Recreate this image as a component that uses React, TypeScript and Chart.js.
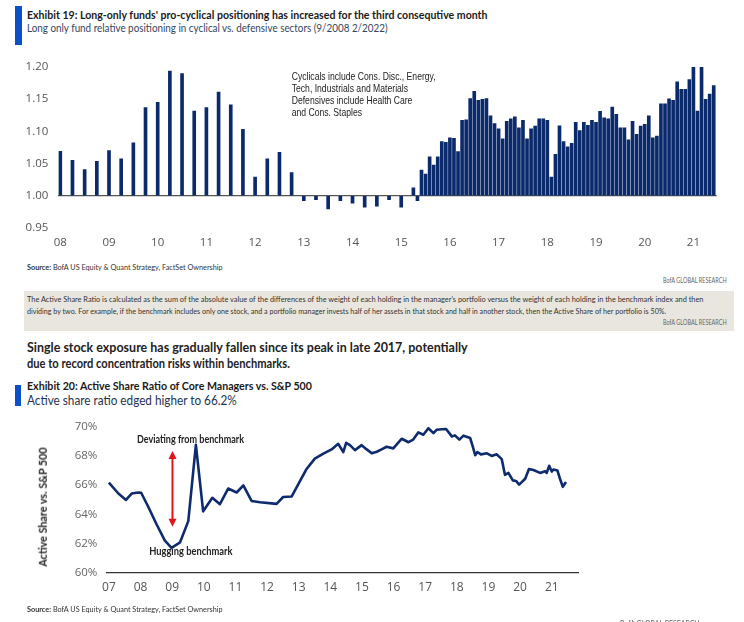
import React, { useEffect, useRef } from "react";
import { Chart, registerables } from "chart.js";

Chart.register(...registerables);

// ---------------- Exhibit 19 data ----------------
const quarterlyDates = [
  "2008-01", "2008-04", "2008-07", "2008-10",
  "2009-01", "2009-04", "2009-07", "2009-10",
  "2010-01", "2010-04", "2010-07", "2010-10",
  "2011-01", "2011-04", "2011-07", "2011-10",
  "2012-01", "2012-04", "2012-07", "2012-10",
  "2013-01", "2013-04", "2013-07", "2013-10",
  "2014-01", "2014-04", "2014-07", "2014-10",
  "2015-01",
];
const quarterlyValues = [
  1.069, 1.055, 1.0405, 1.0535,
  1.07, 1.0575, 1.082, 1.137,
  1.145, 1.1935, 1.1895, 1.1315,
  1.137, 1.161, 1.141, 1.103,
  1.029, 1.0575, 1.0675, 1.036,
  0.9925, 0.994, 0.9795, 0.9925,
  0.9885, 0.9825, 0.984, 0.994,
  0.9825,
];
const monthlyDates = [
  "2015-04", "2015-05", "2015-06", "2015-07", "2015-08", "2015-09", "2015-10", "2015-11", "2015-12",
  "2016-01", "2016-02", "2016-03", "2016-04", "2016-05", "2016-06", "2016-07", "2016-08", "2016-09", "2016-10", "2016-11", "2016-12",
  "2017-01", "2017-02", "2017-03", "2017-04", "2017-05", "2017-06", "2017-07", "2017-08", "2017-09", "2017-10", "2017-11", "2017-12",
  "2018-01", "2018-02", "2018-03", "2018-04", "2018-05", "2018-06", "2018-07", "2018-08", "2018-09", "2018-10", "2018-11", "2018-12",
  "2019-01", "2019-02", "2019-03", "2019-04", "2019-05", "2019-06", "2019-07", "2019-08", "2019-09", "2019-10", "2019-11", "2019-12",
  "2020-01", "2020-02", "2020-03", "2020-04", "2020-05", "2020-06", "2020-07", "2020-08", "2020-09", "2020-10", "2020-11", "2020-12",
  "2021-01", "2021-02", "2021-03", "2021-04", "2021-05", "2021-06",
];
const monthlyValues = [
  1.0125, 0.9925, 1.04, 1.0335, 1.0605, 1.0475, 1.0605, 1.084, 1.083,
  1.09, 1.089, 1.0685, 1.117, 1.118, 1.151, 1.162, 1.148, 1.1495, 1.151, 1.124, 1.112,
  1.104, 1.0885, 1.1155, 1.1195, 1.1225, 1.1055, 1.117, 1.0885, 1.104, 1.108, 1.1195, 1.1195,
  1.117, 1.029, 1.0645, 1.1085, 1.084, 1.076, 1.0815, 1.114, 1.101, 1.114, 1.1095, 1.117,
  1.114, 1.131, 1.121, 1.1195, 1.1375, 1.1265, 1.1055, 1.1055, 1.087, 1.1155, 1.0955, 1.108,
  1.111, 1.124, 1.09, 1.0925, 1.1425, 1.1425, 1.1505, 1.148, 1.177, 1.165, 1.165, 1.1805,
  1.2, 1.1315, 1.2, 1.1495, 1.158, 1.171,
];
const ex19TickYears = [2008, 2009, 2010, 2011, 2012, 2013, 2014, 2015, 2016, 2017, 2018, 2019, 2020, 2021];
const ex19TickLabels = ["08", "09", "10", "11", "12", "13", "14", "15", "16", "17", "18", "19", "20", "21"];
const ex19YTicks = [0.95, 1.0, 1.05, 1.1, 1.15, 1.2];
const ex19Note = [
  "Cyclicals include Cons. Disc., Energy,",
  "Tech, Industrials and Materials",
  "Defensives include Health Care",
  "and Cons. Staples",
];

// ---------------- Exhibit 20 data ----------------
const activeShareDates = [
  2007.0, 2007.3, 2007.54, 2007.72, 2007.93, 2008.02, 2008.24, 2008.51, 2008.77, 2008.98,
  2009.25, 2009.51, 2009.75, 2009.98, 2010.27, 2010.51, 2010.77, 2011.04, 2011.25, 2011.51,
  2011.78, 2012.3, 2012.51, 2012.78, 2013.25, 2013.51, 2013.78, 2014.04, 2014.25, 2014.41,
  2014.5, 2014.62, 2014.78, 2014.99, 2015.15, 2015.31, 2015.47, 2015.62, 2015.78, 2015.99,
  2016.26, 2016.47, 2016.62, 2016.78, 2016.94, 2017.1, 2017.26, 2017.36, 2017.52, 2017.66,
  2017.84, 2017.94, 2018.08, 2018.21, 2018.42, 2018.5, 2018.58, 2018.65, 2018.76, 2018.95,
  2019.1, 2019.26, 2019.42, 2019.52, 2019.63, 2019.77, 2019.87, 2019.97, 2020.16, 2020.28,
  2020.42, 2020.63, 2020.79, 2020.84, 2020.92, 2021.0, 2021.05, 2021.18, 2021.26, 2021.35,
  2021.45,
];
const activeShareValues = [
  66.16, 65.42, 64.98, 65.42, 65.49, 65.47, 64.53, 63.3, 62.19, 61.7,
  62.08, 63.53, 68.75, 64.2, 65.13, 64.69, 65.76, 65.49, 65.98, 64.91,
  64.82, 64.71, 65.18, 65.22, 67.1, 67.81, 68.15, 68.44, 68.82, 68.26,
  68.89, 68.73, 68.39, 68.73, 68.44, 68.17, 68.28, 68.44, 68.62, 68.51,
  69.17, 68.93, 69.11, 69.6, 69.44, 69.89, 69.55, 69.78, 69.82, 69.84,
  69.33, 69.4, 69.11, 69.38, 69.22, 68.66, 68.04, 68.26, 68.1, 68.17,
  67.99, 68.1, 67.77, 66.7, 66.83, 66.32, 66.28, 66.03, 66.43, 67.1,
  67.03, 66.83, 66.95, 66.83, 67.32, 66.92, 67.06, 66.99, 66.43, 65.88,
  66.21,
];
const ex20TickYears = [2007, 2008, 2009, 2010, 2011, 2012, 2013, 2014, 2015, 2016, 2017, 2018, 2019, 2020, 2021];
const ex20TickLabels = ["07", "08", "09", "10", "11", "12", "13", "14", "15", "16", "17", "18", "19", "20", "21"];
const ex20YTicks = [60, 62, 64, 66, 68, 70];
// annotation anchors (data units)
const arrowSpan = { x: 2009.01, from: 68.33, to: 63.15 };
const deviatingLabel = { text: "Deviating from benchmark", x: 2009.58, y: 69.13 };
const huggingLabel = { text: "Hugging benchmark", x: 2009.59, y: 61.46 };

// ---------------- helpers ----------------
const NAVY = "#0b2a6c";
const TXT_FONT = "Lato, 'Open Sans', sans-serif";
const TICK_FONT = "'Open Sans', sans-serif";

function toYear(d: string) {
  const [y, m] = d.split("-").map(Number);
  return y + (m - 1) / 12;
}

type Part = { t: string; b?: boolean };
let measureCanvas: HTMLCanvasElement | null = null;
function textWidth(parts: Part[], size: number) {
  if (!measureCanvas) measureCanvas = document.createElement("canvas");
  const ctx = measureCanvas.getContext("2d")!;
  let w = 0;
  for (const p of parts) {
    ctx.font = `${p.b ? 700 : 400} ${size}px ${TXT_FONT}`;
    w += ctx.measureText(p.t).width;
  }
  return w;
}

function Txt(props: { left: number; right: number; cy: number; size: number; parts: Part[]; color: string }) {
  const { left, right, cy, size, parts, color } = props;
  const s = (right - left) / textWidth(parts, size);
  return (
    <div
      style={{
        position: "absolute",
        left,
        top: cy - 0.63 * size,
        fontSize: size,
        lineHeight: 1.2,
        fontFamily: TXT_FONT,
        whiteSpace: "nowrap",
        color,
        transform: `scaleX(${s})`,
        transformOrigin: "0 0",
      }}
    >
      {parts.map((p, i) => (
        <span key={i} style={{ fontWeight: p.b ? 700 : 400 }}>
          {p.t}
        </span>
      ))}
    </div>
  );
}

function VTxt(props: { cx: number; cy: number; len: number; size: number; text: string; color: string }) {
  const { cx, cy, len, size, text, color } = props;
  const s = len / textWidth([{ t: text, b: true }], size);
  return (
    <div
      style={{
        position: "absolute",
        left: cx,
        top: cy,
        fontSize: size,
        lineHeight: 1.2,
        fontFamily: TXT_FONT,
        fontWeight: 700,
        whiteSpace: "nowrap",
        color,
        transform: `translate(-50%, -50%) rotate(-90deg) scaleX(${s})`,
        transformOrigin: "center",
      }}
    >
      {text}
    </div>
  );
}

function drawScaledText(
  ctx: CanvasRenderingContext2D,
  text: string,
  x: number,
  y: number,
  scale: number,
  align: CanvasTextAlign
) {
  ctx.save();
  ctx.translate(x, y);
  ctx.scale(scale, 1);
  ctx.textAlign = align;
  ctx.textBaseline = "middle";
  ctx.fillText(text, 0, 0);
  ctx.restore();
}

function ChartBox(props: { left: number; top: number; width: number; height: number; make: (c: HTMLCanvasElement) => Chart }) {
  const ref = useRef<HTMLCanvasElement>(null);
  const { make } = props;
  useEffect(() => {
    if (!ref.current) return;
    const chart = make(ref.current);
    return () => chart.destroy();
  }, [make]);
  return (
    <div style={{ position: "absolute", left: props.left, top: props.top, width: props.width, height: props.height }}>
      <canvas ref={ref} />
    </div>
  );
}

// ---------------- chart builders ----------------
function makeEx19(canvas: HTMLCanvasElement) {
  const data = [
    ...quarterlyDates.map((d, i) => ({ x: toYear(d), y: quarterlyValues[i] })),
    ...monthlyDates.map((d, i) => ({ x: toYear(d), y: monthlyValues[i] })),
  ];
  const notePlugin = {
    id: "ex19note",
    afterDatasetsDraw(chart: any) {
      const ctx = chart.ctx as CanvasRenderingContext2D;
      const x = chart.scales.x.getPixelForValue(2012.751);
      const y0 = chart.scales.y.getPixelForValue(1.1838);
      ctx.save();
      ctx.font = "10.5px 'Liberation Sans', Arial, sans-serif";
      ctx.fillStyle = "#222";
      const s = 144 / ctx.measureText(ex19Note[0]).width;
      ex19Note.forEach((line, i) => drawScaledText(ctx, line, x, y0 + i * 11.8, s, "left"));
      ctx.restore();
    },
  };
  return new Chart(canvas, {
    type: "bar",
    data: {
      datasets: [
        {
          data: data as any,
          backgroundColor: NAVY,
          borderWidth: 0,
          barThickness: 3,
          base: 1,
        } as any,
      ],
    },
    options: {
      animation: false,
      responsive: true,
      maintainAspectRatio: false,
      layout: { padding: { left: 0, right: 27.3, top: 11.7, bottom: 0 } },
      plugins: { legend: { display: false }, tooltip: { enabled: false } },
      scales: {
        x: {
          type: "linear",
          min: 2007.959,
          max: 2021.478,
          offset: false,
          grid: { display: false, drawTicks: false },
          border: { display: false },
          afterBuildTicks: (s: any) => {
            s.ticks = ex19TickYears.map((v) => ({ value: v }));
          },
          afterFit: (s: any) => {
            s.height = 27;
          },
          ticks: {
            autoSkip: false,
            maxRotation: 0,
            padding: 8,
            color: "#555",
            font: { family: TICK_FONT, size: 11.5 },
            callback: (_v: any, i: number) => ex19TickLabels[i],
          },
        },
        y: {
          min: 0.95,
          max: 1.2,
          grid: {
            drawTicks: false,
            lineWidth: 1.2,
            color: (c: any) => (Math.abs(c.tick.value - 1) < 1e-6 ? "#555" : "rgba(0,0,0,0)"),
          },
          border: { display: false },
          afterBuildTicks: (s: any) => {
            s.ticks = ex19YTicks.map((v) => ({ value: v }));
          },
          afterFit: (s: any) => {
            s.width = 58.3;
          },
          ticks: {
            padding: 10,
            color: "#555",
            font: { family: TICK_FONT, size: 11.5 },
            callback: (v: any) => Number(v).toFixed(2),
          },
        },
      },
    } as any,
    plugins: [notePlugin],
  });
}

function makeEx20(canvas: HTMLCanvasElement) {
  const data = activeShareDates.map((d, i) => ({ x: d, y: activeShareValues[i] }));
  const annPlugin = {
    id: "ex20ann",
    afterDatasetsDraw(chart: any) {
      const ctx = chart.ctx as CanvasRenderingContext2D;
      const xs = chart.scales.x;
      const ys = chart.scales.y;
      const ax = xs.getPixelForValue(arrowSpan.x);
      const yTop = ys.getPixelForValue(arrowSpan.from);
      const yBot = ys.getPixelForValue(arrowSpan.to);
      const head = 7;
      ctx.save();
      ctx.strokeStyle = "#e3121b";
      ctx.fillStyle = "#e3121b";
      ctx.lineWidth = 2;
      ctx.beginPath();
      ctx.moveTo(ax, yTop + head);
      ctx.lineTo(ax, yBot - head);
      ctx.stroke();
      ctx.beginPath();
      ctx.moveTo(ax, yTop);
      ctx.lineTo(ax - 4, yTop + head + 1);
      ctx.lineTo(ax + 4, yTop + head + 1);
      ctx.closePath();
      ctx.fill();
      ctx.beginPath();
      ctx.moveTo(ax, yBot);
      ctx.lineTo(ax - 4, yBot - head - 1);
      ctx.lineTo(ax + 4, yBot - head - 1);
      ctx.closePath();
      ctx.fill();
      ctx.font = `700 10.5px ${TXT_FONT}`;
      ctx.fillStyle = "#222";
      const s1 = 107 / ctx.measureText(deviatingLabel.text).width;
      drawScaledText(ctx, deviatingLabel.text, xs.getPixelForValue(deviatingLabel.x), ys.getPixelForValue(deviatingLabel.y), s1, "center");
      const s2 = 83.3 / ctx.measureText(huggingLabel.text).width;
      drawScaledText(ctx, huggingLabel.text, xs.getPixelForValue(huggingLabel.x), ys.getPixelForValue(huggingLabel.y), s2, "center");
      ctx.restore();
    },
  };
  return new Chart(canvas, {
    type: "line",
    data: {
      datasets: [
        {
          data: data as any,
          borderColor: "#0e2b6e",
          borderWidth: 2.6,
          pointRadius: 0,
          tension: 0,
          fill: false,
          borderJoinStyle: "round",
        } as any,
      ],
    },
    options: {
      animation: false,
      responsive: true,
      maintainAspectRatio: false,
      layout: { padding: { left: 0, right: 22, top: 13.3, bottom: 0 } },
      plugins: { legend: { display: false }, tooltip: { enabled: false } },
      scales: {
        x: {
          type: "linear",
          min: 2006.94,
          max: 2021.83,
          offset: false,
          grid: { display: false, drawTicks: false },
          border: { display: true, color: "#333", width: 1.3 },
          afterBuildTicks: (s: any) => {
            s.ticks = ex20TickYears.map((v) => ({ value: v }));
          },
          afterFit: (s: any) => {
            s.height = 49.3;
          },
          ticks: {
            autoSkip: false,
            maxRotation: 0,
            padding: 8,
            color: "#555",
            font: { family: TICK_FONT, size: 12 },
            callback: (_v: any, i: number) => ex20TickLabels[i],
          },
        },
        y: {
          min: 60,
          max: 70,
          grid: { display: false, drawTicks: false },
          border: { display: false },
          afterBuildTicks: (s: any) => {
            s.ticks = ex20YTicks.map((v) => ({ value: v }));
          },
          afterFit: (s: any) => {
            s.width = 107;
          },
          ticks: {
            padding: 9.7,
            color: "#666",
            font: { family: TICK_FONT, size: 11.5 },
            callback: (v: any) => `${v}%`,
          },
        },
      },
    } as any,
    plugins: [annPlugin],
  });
}

// ---------------- page ----------------
const box1Line1 =
  "The Active Share Ratio is calculated as the sum of the absolute value of the differences of the weight of each holding in the manager's portfolio versus the weight of each holding in the benchmark index and then";
const box1Line2 =
  "dividing by two.  For example, if the benchmark includes only one stock, and a portfolio manager invests half of her assets in that stock and half in another stock, then the Active Share of her portfolio is 50%.";
const sourceParts: Part[] = [{ t: "Source:", b: true }, { t: " BofA US Equity & Quant Strategy, FactSet Ownership" }];

export default function App() {
  return (
    <div
      style={{
        position: "absolute",
        left: 0,
        top: 0,
        width: 744,
        height: 622,
        overflow: "hidden",
        background: "#fff",
      }}
    >
      {/* Exhibit 19 header */}
      <div style={{ position: "absolute", left: 15, top: 6, width: 7, height: 39, background: "#0b50c8" }} />
      <Txt
        left={27}
        right={488}
        cy={16}
        size={10.5}
        color="#1a1a1a"
        parts={[{ t: "Exhibit 19: Long-only funds' pro-cyclical positioning has increased for the third consequtive month", b: true }]}
      />
      <Txt
        left={27}
        right={388}
        cy={29}
        size={10.5}
        color="#34465e"
        parts={[{ t: "Long only fund relative positioning in cyclical vs. defensive sectors (9/2008 2/2022)" }]}
      />

      <ChartBox left={0} top={50} width={744} height={205} make={makeEx19} />

      <Txt left={27} right={223} cy={268} size={7.5} color="#333" parts={sourceParts} />
      <Txt left={663} right={727} cy={281} size={7.5} color="#666" parts={[{ t: "BofA GLOBAL RESEARCH" }]} />

      {/* grey note box */}
      <div style={{ position: "absolute", left: 24, top: 291, width: 710, height: 40, background: "#e8e6de" }} />
      <Txt left={27} right={705} cy={300} size={7.5} color="#333" parts={[{ t: box1Line1 }]} />
      <Txt left={27} right={670} cy={312} size={7.5} color="#333" parts={[{ t: box1Line2 }]} />
      <Txt left={663} right={727} cy={323} size={7.5} color="#666" parts={[{ t: "BofA GLOBAL RESEARCH" }]} />

      {/* heading */}
      <Txt
        left={27}
        right={468}
        cy={348}
        size={12.5}
        color="#222"
        parts={[{ t: "Single stock exposure has gradually fallen since its peak in late 2017, potentially", b: true }]}
      />
      <Txt
        left={27}
        right={290}
        cy={364}
        size={12.5}
        color="#222"
        parts={[{ t: "due to record concentration risks within benchmarks.", b: true }]}
      />

      {/* Exhibit 20 header */}
      <div style={{ position: "absolute", left: 15, top: 385, width: 6, height: 21, background: "#0b50c8" }} />
      <Txt
        left={27}
        right={313}
        cy={387}
        size={12}
        color="#1a1a1a"
        parts={[{ t: "Exhibit 20: Active Share Ratio of Core Managers vs. S&P 500", b: true }]}
      />
      <Txt
        left={27}
        right={237}
        cy={400.5}
        size={12.5}
        color="#1f3352"
        parts={[{ t: "Active share ratio edged higher to 66.2%" }]}
      />

      <ChartBox left={0} top={410} width={600} height={212} make={makeEx20} />
      <VTxt cx={43} cy={507} len={120} size={12} color="#222" text="Active Share vs. S&P 500" />

      <Txt left={27} right={223} cy={610} size={7.5} color="#333" parts={sourceParts} />
      <Txt left={620} right={700} cy={624.5} size={8.5} color="#666" parts={[{ t: "BofA GLOBAL RESEARCH" }]} />
    </div>
  );
}
